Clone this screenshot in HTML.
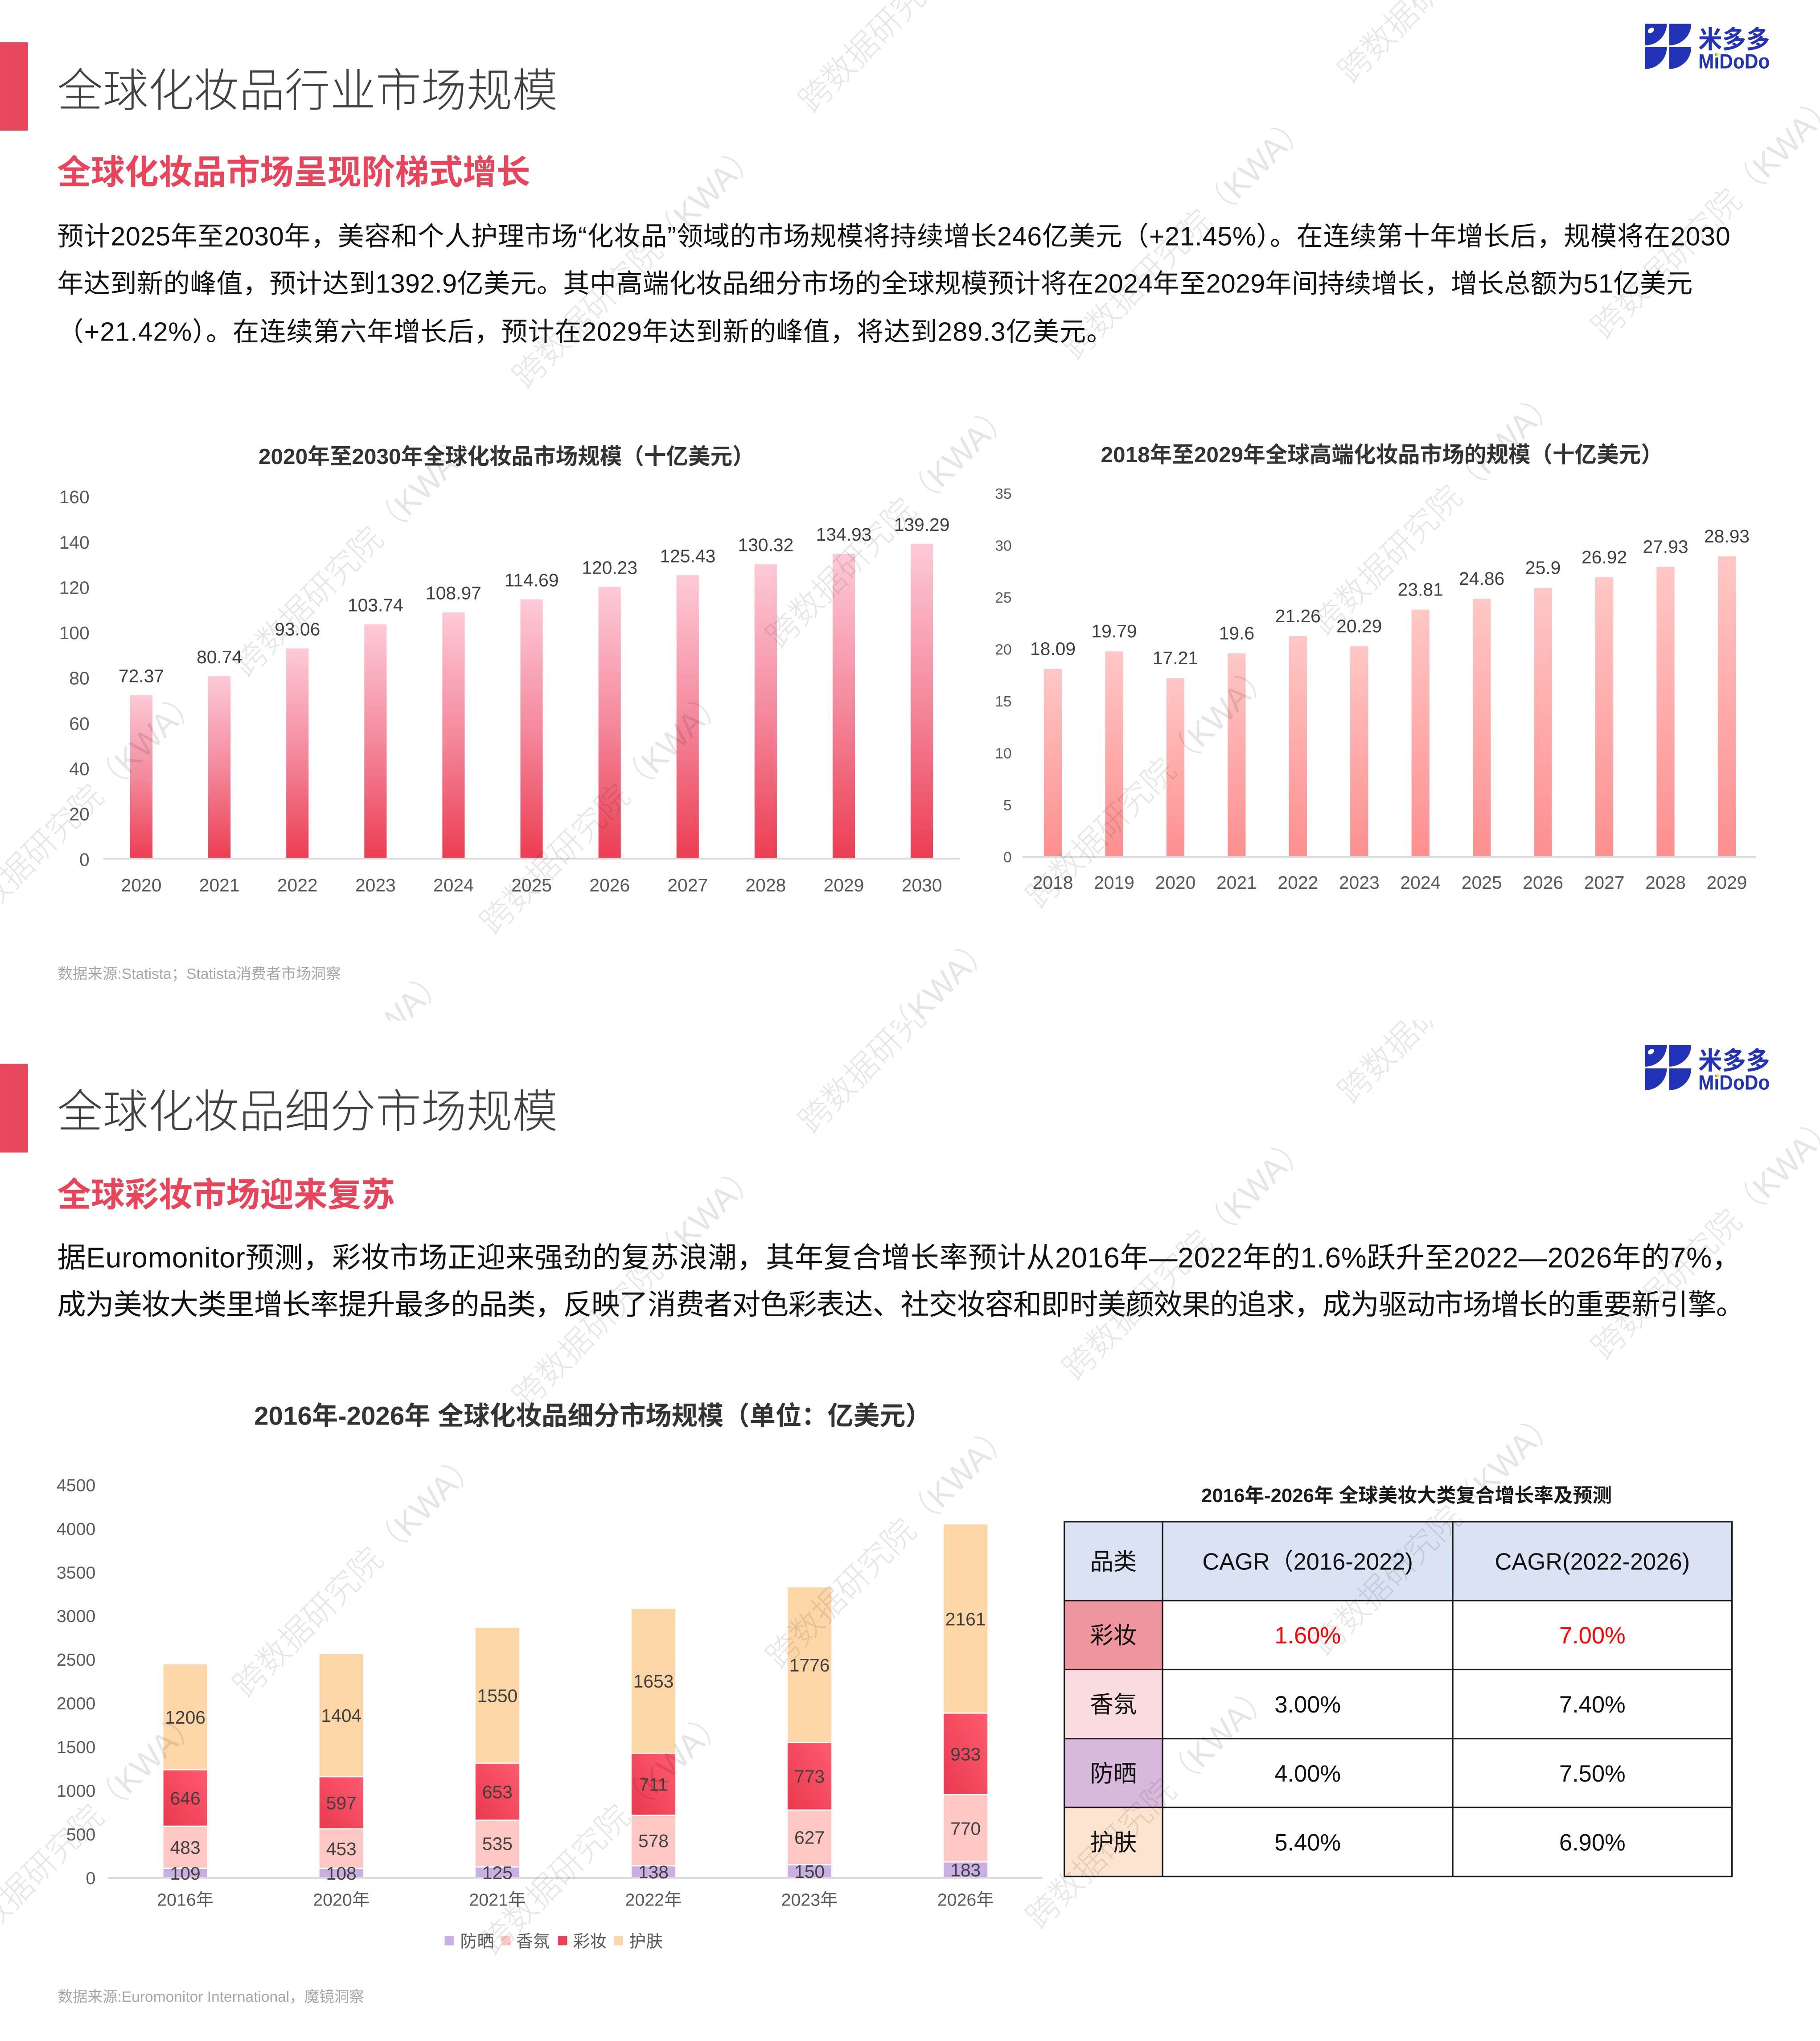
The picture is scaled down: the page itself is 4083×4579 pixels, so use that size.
<!DOCTYPE html>
<html><head><meta charset="utf-8"><style>
html,body{margin:0;padding:0;background:#fff;width:4083px;height:4579px;overflow:hidden}
svg{display:block;overflow:hidden}
.f{font-family:"Liberation Sans","Noto Sans CJK SC",sans-serif}
.wm{font-family:"Liberation Sans","Noto Sans CJK SC",sans-serif;font-size:25px;fill:#000;fill-opacity:0.1;font-weight:300}
.ax{font-size:14px;fill:#595959}
.vl{font-size:14px;fill:#404040}
</style></head><body>
<svg xmlns="http://www.w3.org/2000/svg" width="4083" height="4579" viewBox="0 0 1400 1570.1" class="f">
<defs>
<linearGradient id="g1" x1="0" y1="0" x2="0" y2="1"><stop offset="0" stop-color="#fdcad7"/><stop offset="0.5" stop-color="#f4899d"/><stop offset="1" stop-color="#ec3d52"/></linearGradient>
<linearGradient id="g2" x1="0" y1="0" x2="0" y2="1"><stop offset="0" stop-color="#fec7c5"/><stop offset="1" stop-color="#fd8f8f"/></linearGradient>
<linearGradient id="g3" x1="1" y1="0" x2="0" y2="1"><stop offset="0" stop-color="#ff5b6e"/><stop offset="1" stop-color="#e9394f"/></linearGradient>
<clipPath id="pg" clipPathUnits="userSpaceOnUse"><rect x="0" y="0" width="1400" height="785.05"/></clipPath>
</defs>
<rect x="0" y="0" width="1400" height="1570.1" fill="#fff"/>

<!-- ===== PAGE 1 header ===== -->
<rect x="0" y="32.5" width="21.4" height="68" fill="#e8475c"/>
<text x="44" y="82" font-size="35" fill="#404040" font-weight="300">全球化妆品行业市场规模</text>
<text x="44" y="141.5" font-size="26" fill="#e8455a" font-weight="bold">全球化妆品市场呈现阶梯式增长</text>
<text x="44" y="188.7" font-size="20.3" fill="#111" textLength="1287">预计2025年至2030年，美容和个人护理市场“化妆品”领域的市场规模将持续增长246亿美元（+21.45%）。在连续第十年增长后，规模将在2030</text>
<text x="44" y="225.1" font-size="20.3" fill="#111" textLength="1258">年达到新的峰值，预计达到1392.9亿美元。其中高端化妆品细分市场的全球规模预计将在2024年至2029年间持续增长，增长总额为51亿美元</text>
<text x="44" y="262.1" font-size="20.3" fill="#111" textLength="812">（+21.42%）。在连续第六年增长后，预计在2029年达到新的峰值，将达到289.3亿美元。</text>

<!-- logo page 1 -->
<g fill="#2233b8">
<path d="M1265.5 18.3 H1282.2 A16.7 16.6 0 0 1 1265.5 34.9 Z"/>
<path d="M1283.9 18.3 H1301 A17.1 16.6 0 0 1 1283.9 34.9 Z"/>
<path d="M1265.5 36.3 H1282.2 A16.7 16.8 0 0 1 1265.5 53.1 Z"/>
<path d="M1283.9 36.3 H1301 A17.1 16.8 0 0 1 1283.9 53.1 Z"/>
<text x="1306.4" y="37" font-size="19" font-weight="bold" textLength="55" lengthAdjust="spacingAndGlyphs">米多多</text>
<text x="1306.4" y="52.6" font-size="16" font-weight="bold" textLength="55" lengthAdjust="spacingAndGlyphs">MiDoDo</text>
</g>
<ellipse cx="1270" cy="23.4" rx="2.6" ry="1.8" fill="#fff" transform="rotate(-35 1270 23.4)"/>
<circle cx="1321.5" cy="42" r="1.3" fill="#f3e64a"/>

<!-- ===== Chart 1 ===== -->
<text x="389.6" y="357" font-size="17" font-weight="bold" fill="#333" text-anchor="middle">2020年至2030年全球化妆品市场规模（十亿美元）</text>
<g class="ax" text-anchor="end">
<text x="68.8" y="666">0</text><text x="68.8" y="631.15">20</text><text x="68.8" y="596.3">40</text><text x="68.8" y="561.45">60</text><text x="68.8" y="526.6">80</text><text x="68.8" y="491.75">100</text><text x="68.8" y="456.9">120</text><text x="68.8" y="422.05">140</text><text x="68.8" y="387.2">160</text>
</g>
<g fill="url(#g1)">
<rect x="100.1" y="534.75" width="17.2" height="125.85"/>
<rect x="160.14" y="520.19" width="17.2" height="140.41"/>
<rect x="220.18" y="498.77" width="17.2" height="161.83"/>
<rect x="280.22" y="480.2" width="17.2" height="180.4"/>
<rect x="340.26" y="471.1" width="17.2" height="189.5"/>
<rect x="400.3" y="461.15" width="17.2" height="199.45"/>
<rect x="460.34" y="451.52" width="17.2" height="209.08"/>
<rect x="520.38" y="442.48" width="17.2" height="218.12"/>
<rect x="580.42" y="433.97" width="17.2" height="226.63"/>
<rect x="640.46" y="425.96" width="17.2" height="234.64"/>
<rect x="700.5" y="418.37" width="17.2" height="242.23"/>
</g>
<line x1="79.4" y1="660.6" x2="738.5" y2="660.6" stroke="#d9d9d9" stroke-width="1.3"/>
<g class="vl" text-anchor="middle">
<text x="108.7" y="524.75">72.37</text><text x="168.74" y="510.19">80.74</text><text x="228.78" y="488.77">93.06</text><text x="288.82" y="470.2">103.74</text><text x="348.86" y="461.1">108.97</text><text x="408.9" y="451.15">114.69</text><text x="468.94" y="441.52">120.23</text><text x="528.98" y="432.48">125.43</text><text x="589.02" y="423.97">130.32</text><text x="649.06" y="415.96">134.93</text><text x="709.1" y="408.37">139.29</text>
</g>
<g class="ax" text-anchor="middle">
<text x="108.7" y="685.8">2020</text><text x="168.74" y="685.8">2021</text><text x="228.78" y="685.8">2022</text><text x="288.82" y="685.8">2023</text><text x="348.86" y="685.8">2024</text><text x="408.9" y="685.8">2025</text><text x="468.94" y="685.8">2026</text><text x="528.98" y="685.8">2027</text><text x="589.02" y="685.8">2028</text><text x="649.06" y="685.8">2029</text><text x="709.1" y="685.8">2030</text>
</g>
<text x="44.4" y="753" font-size="11.5" fill="#a6a6a6">数据来源:Statista；Statista消费者市场洞察</text>

<!-- ===== Chart 2 ===== -->
<text x="1063" y="355.5" font-size="17" font-weight="bold" fill="#333" text-anchor="middle">2018年至2029年全球高端化妆品市场的规模（十亿美元）</text>
<g font-size="11.5" fill="#595959" text-anchor="end">
<text x="778.2" y="663.3">0</text><text x="778.2" y="623.35">5</text><text x="778.2" y="583.4">10</text><text x="778.2" y="543.45">15</text><text x="778.2" y="503.5">20</text><text x="778.2" y="463.55">25</text><text x="778.2" y="423.6">30</text><text x="778.2" y="383.65">35</text>
</g>
<g fill="url(#g2)">
<rect x="803" y="514.66" width="13.8" height="144.54"/>
<rect x="850.13" y="501.08" width="13.8" height="158.12"/>
<rect x="897.26" y="521.69" width="13.8" height="137.51"/>
<rect x="944.39" y="502.6" width="13.8" height="156.6"/>
<rect x="991.52" y="489.33" width="13.8" height="169.87"/>
<rect x="1038.65" y="497.08" width="13.8" height="162.12"/>
<rect x="1085.78" y="468.96" width="13.8" height="190.24"/>
<rect x="1132.91" y="460.57" width="13.8" height="198.63"/>
<rect x="1180.04" y="452.26" width="13.8" height="206.94"/>
<rect x="1227.17" y="444.11" width="13.8" height="215.09"/>
<rect x="1274.3" y="436.04" width="13.8" height="223.16"/>
<rect x="1321.43" y="428.05" width="13.8" height="231.15"/>
</g>
<line x1="786.5" y1="659.2" x2="1351" y2="659.2" stroke="#d9d9d9" stroke-width="1.3"/>
<g class="vl" text-anchor="middle">
<text x="809.9" y="503.96">18.09</text><text x="857.03" y="490.38">19.79</text><text x="904.16" y="510.99">17.21</text><text x="951.29" y="491.9">19.6</text><text x="998.42" y="478.63">21.26</text><text x="1045.55" y="486.38">20.29</text><text x="1092.68" y="458.26">23.81</text><text x="1139.81" y="449.87">24.86</text><text x="1186.94" y="441.56">25.9</text><text x="1234.07" y="433.41">26.92</text><text x="1281.2" y="425.34">27.93</text><text x="1328.33" y="417.35">28.93</text>
</g>
<g class="ax" text-anchor="middle">
<text x="809.9" y="683.7">2018</text><text x="857.03" y="683.7">2019</text><text x="904.16" y="683.7">2020</text><text x="951.29" y="683.7">2021</text><text x="998.42" y="683.7">2022</text><text x="1045.55" y="683.7">2023</text><text x="1092.68" y="683.7">2024</text><text x="1139.81" y="683.7">2025</text><text x="1186.94" y="683.7">2026</text><text x="1234.07" y="683.7">2027</text><text x="1281.2" y="683.7">2028</text><text x="1328.33" y="683.7">2029</text>
</g>

<!-- ===== PAGE 2 header ===== -->
<rect x="0" y="818.4" width="21.4" height="68.2" fill="#e8475c"/>
<text x="44" y="867.3" font-size="35" fill="#404040" font-weight="300">全球化妆品细分市场规模</text>
<text x="44" y="928" font-size="26" fill="#e8455a" font-weight="bold">全球彩妆市场迎来复苏</text>
<text x="44" y="975" font-size="22" fill="#111" textLength="1295">据Euromonitor预测，彩妆市场正迎来强劲的复苏浪潮，其年复合增长率预计从2016年—2022年的1.6%跃升至2022—2026年的7%，</text>
<text x="44" y="1011.2" font-size="22" fill="#111" textLength="1298">成为美妆大类里增长率提升最多的品类，反映了消费者对色彩表达、社交妆容和即时美颜效果的追求，成为驱动市场增长的重要新引擎。</text>

<g transform="translate(0,785.6)">
<g fill="#2233b8">
<path d="M1265.5 18.3 H1282.2 A16.7 16.6 0 0 1 1265.5 34.9 Z"/>
<path d="M1283.9 18.3 H1301 A17.1 16.6 0 0 1 1283.9 34.9 Z"/>
<path d="M1265.5 36.3 H1282.2 A16.7 16.8 0 0 1 1265.5 53.1 Z"/>
<path d="M1283.9 36.3 H1301 A17.1 16.8 0 0 1 1283.9 53.1 Z"/>
<text x="1306.4" y="37" font-size="19" font-weight="bold" textLength="55" lengthAdjust="spacingAndGlyphs">米多多</text>
<text x="1306.4" y="52.6" font-size="16" font-weight="bold" textLength="55" lengthAdjust="spacingAndGlyphs">MiDoDo</text>
</g>
<ellipse cx="1270" cy="23.4" rx="2.6" ry="1.8" fill="#fff" transform="rotate(-35 1270 23.4)"/>
<circle cx="1321.5" cy="42" r="1.3" fill="#f3e64a"/>
</g>

<!-- ===== Stacked chart ===== -->
<text x="456" y="1096" font-size="20" font-weight="bold" fill="#333" text-anchor="middle">2016年-2026年 全球化妆品细分市场规模（单位：亿美元）</text>
<g font-size="13.5" fill="#595959" text-anchor="end">
<text x="73.5" y="1449.4">0</text><text x="73.5" y="1415.81">500</text><text x="73.5" y="1382.22">1000</text><text x="73.5" y="1348.63">1500</text><text x="73.5" y="1315.04">2000</text><text x="73.5" y="1281.45">2500</text><text x="73.5" y="1247.86">3000</text><text x="73.5" y="1214.27">3500</text><text x="73.5" y="1180.68">4000</text><text x="73.5" y="1147.09">4500</text>
</g>
<g>
<rect x="125.7" y="1437.28" width="33.6" height="7.32" fill="#c9afe2"/>
<rect x="125.7" y="1404.83" width="33.6" height="32.45" fill="#fdc7c3"/>
<rect x="125.7" y="1361.43" width="33.6" height="43.4" fill="url(#g3)"/>
<rect x="125.7" y="1280.41" width="33.6" height="81.02" fill="#fdd6a7"/>

<rect x="245.75" y="1437.34" width="33.6" height="7.26" fill="#c9afe2"/>
<rect x="245.75" y="1406.91" width="33.6" height="30.43" fill="#fdc7c3"/>
<rect x="245.75" y="1366.8" width="33.6" height="40.11" fill="url(#g3)"/>
<rect x="245.75" y="1272.48" width="33.6" height="94.32" fill="#fdd6a7"/>

<rect x="365.8" y="1436.2" width="33.6" height="8.4" fill="#c9afe2"/>
<rect x="365.8" y="1400.26" width="33.6" height="35.94" fill="#fdc7c3"/>
<rect x="365.8" y="1356.39" width="33.6" height="43.87" fill="url(#g3)"/>
<rect x="365.8" y="1252.26" width="33.6" height="104.13" fill="#fdd6a7"/>

<rect x="485.85" y="1435.33" width="33.6" height="9.27" fill="#c9afe2"/>
<rect x="485.85" y="1396.5" width="33.6" height="38.83" fill="#fdc7c3"/>
<rect x="485.85" y="1348.74" width="33.6" height="47.76" fill="url(#g3)"/>
<rect x="485.85" y="1237.69" width="33.6" height="111.05" fill="#fdd6a7"/>

<rect x="605.9" y="1434.52" width="33.6" height="10.08" fill="#c9afe2"/>
<rect x="605.9" y="1392.4" width="33.6" height="42.12" fill="#fdc7c3"/>
<rect x="605.9" y="1340.47" width="33.6" height="51.93" fill="url(#g3)"/>
<rect x="605.9" y="1221.16" width="33.6" height="119.31" fill="#fdd6a7"/>

<rect x="725.95" y="1432.31" width="33.6" height="12.29" fill="#c9afe2"/>
<rect x="725.95" y="1380.58" width="33.6" height="51.73" fill="#fdc7c3"/>
<rect x="725.95" y="1317.9" width="33.6" height="62.68" fill="url(#g3)"/>
<rect x="725.95" y="1172.73" width="33.6" height="145.17" fill="#fdd6a7"/>
</g>
<g stroke="#fff" stroke-width="0.9">
<line x1="125.7" x2="159.3" y1="1437.28" y2="1437.28"/><line x1="125.7" x2="159.3" y1="1404.83" y2="1404.83"/><line x1="125.7" x2="159.3" y1="1361.43" y2="1361.43"/>
<line x1="245.75" x2="279.35" y1="1437.34" y2="1437.34"/><line x1="245.75" x2="279.35" y1="1406.91" y2="1406.91"/><line x1="245.75" x2="279.35" y1="1366.8" y2="1366.8"/>
<line x1="365.8" x2="399.4" y1="1436.2" y2="1436.2"/><line x1="365.8" x2="399.4" y1="1400.26" y2="1400.26"/><line x1="365.8" x2="399.4" y1="1356.39" y2="1356.39"/>
<line x1="485.85" x2="519.45" y1="1435.33" y2="1435.33"/><line x1="485.85" x2="519.45" y1="1396.5" y2="1396.5"/><line x1="485.85" x2="519.45" y1="1348.74" y2="1348.74"/>
<line x1="605.9" x2="639.5" y1="1434.52" y2="1434.52"/><line x1="605.9" x2="639.5" y1="1392.4" y2="1392.4"/><line x1="605.9" x2="639.5" y1="1340.47" y2="1340.47"/>
<line x1="725.95" x2="759.55" y1="1432.31" y2="1432.31"/><line x1="725.95" x2="759.55" y1="1380.58" y2="1380.58"/><line x1="725.95" x2="759.55" y1="1317.9" y2="1317.9"/>
</g>
<line x1="82.9" y1="1444.6" x2="802" y2="1444.6" stroke="#d9d9d9" stroke-width="1.3"/>
<g class="vl" text-anchor="middle">
<text x="142.5" y="1445.94">109</text><text x="142.5" y="1426.06">483</text><text x="142.5" y="1388.13">646</text><text x="142.5" y="1325.92">1206</text>
<text x="262.55" y="1445.97">108</text><text x="262.55" y="1427.13">453</text><text x="262.55" y="1391.86">597</text><text x="262.55" y="1324.64">1404</text>
<text x="382.6" y="1445.4">125</text><text x="382.6" y="1423.23">535</text><text x="382.6" y="1383.33">653</text><text x="382.6" y="1309.33">1550</text>
<text x="502.65" y="1444.97">138</text><text x="502.65" y="1420.92">578</text><text x="502.65" y="1377.62">711</text><text x="502.65" y="1298.22">1653</text>
<text x="622.7" y="1444.56">150</text><text x="622.7" y="1418.46">627</text><text x="622.7" y="1371.44">773</text><text x="622.7" y="1285.82">1776</text>
<text x="742.75" y="1443.46">183</text><text x="742.75" y="1411.45">770</text><text x="742.75" y="1354.24">933</text><text x="742.75" y="1250.32">2161</text>
</g>
<g font-size="13.5" fill="#595959" text-anchor="middle">
<text x="142.5" y="1466">2016年</text><text x="262.55" y="1466">2020年</text><text x="382.6" y="1466">2021年</text><text x="502.65" y="1466">2022年</text><text x="622.7" y="1466">2023年</text><text x="742.75" y="1466">2026年</text>
</g>
<rect x="342" y="1489.5" width="7" height="7" fill="#c9afe2"/>
<rect x="385.7" y="1489.5" width="7" height="7" fill="#fdc7c3"/>
<rect x="429.3" y="1489.5" width="7" height="7" fill="#ee4057"/>
<rect x="472.3" y="1489.5" width="7" height="7" fill="#fdd6a7"/>
<g font-size="13" fill="#595959">
<text x="354" y="1498">防晒</text><text x="397" y="1498">香氛</text><text x="440.8" y="1498">彩妆</text><text x="483.9" y="1498">护肤</text>
</g>
<text x="44.4" y="1540" font-size="11.5" fill="#a6a6a6">数据来源:Euromonitor International，魔镜洞察</text>

<!-- ===== Table ===== -->
<text x="1082" y="1155.5" font-size="15" font-weight="bold" fill="#1a1a1a" text-anchor="middle">2016年-2026年 全球美妆大类复合增长率及预测</text>
<rect x="818.7" y="1170.6" width="513.6" height="60.7" fill="#dae3f3"/>
<rect x="818.7" y="1231.3" width="75.6" height="53" fill="#ee959e"/>
<rect x="818.7" y="1284.3" width="75.6" height="53.2" fill="#fadbe0"/>
<rect x="818.7" y="1337.5" width="75.6" height="52.9" fill="#d9b8dd"/>
<rect x="818.7" y="1390.4" width="75.6" height="53.1" fill="#fce4d0"/>
<g stroke="#1a1a1a" stroke-width="1.1" fill="none">
<rect x="818.7" y="1170.6" width="513.6" height="272.9"/>
<line x1="818.7" x2="1332.3" y1="1231.3" y2="1231.3"/>
<line x1="818.7" x2="1332.3" y1="1284.3" y2="1284.3"/>
<line x1="818.7" x2="1332.3" y1="1337.5" y2="1337.5"/>
<line x1="818.7" x2="1332.3" y1="1390.4" y2="1390.4"/>
<line x1="894.3" x2="894.3" y1="1170.6" y2="1443.5"/>
<line x1="1117.5" x2="1117.5" y1="1170.6" y2="1443.5"/>
</g>
<g font-size="18" fill="#111" text-anchor="middle">
<text x="856.5" y="1207.5">品类</text><text x="1005.9" y="1207.5">CAGR（2016-2022)</text><text x="1224.9" y="1207.5">CAGR(2022-2026)</text>
<text x="856.5" y="1264.3">彩妆</text><text x="1005.9" y="1264.3" fill="#ff0000">1.60%</text><text x="1224.9" y="1264.3" fill="#ff0000">7.00%</text>
<text x="856.5" y="1317.4">香氛</text><text x="1005.9" y="1317.4">3.00%</text><text x="1224.9" y="1317.4">7.40%</text>
<text x="856.5" y="1370.5">防晒</text><text x="1005.9" y="1370.5">4.00%</text><text x="1224.9" y="1370.5">7.50%</text>
<text x="856.5" y="1423.5">护肤</text><text x="1005.9" y="1423.5">5.40%</text><text x="1224.9" y="1423.5">6.90%</text>
</g>

<!-- ===== Watermarks ===== -->
<g clip-path="url(#pg)" class="wm">
<text x="625" y="88" transform="rotate(-45 625 88)">跨数据研究院（KWA）</text>
<text x="1040" y="65" transform="rotate(-45 1040 65)">跨数据研究院（KWA）</text>
<text x="405" y="300" transform="rotate(-45 405 300)">跨数据研究院（KWA）</text>
<text x="828" y="278" transform="rotate(-45 828 278)">跨数据研究院（KWA）</text>
<text x="1235" y="262" transform="rotate(-45 1235 262)">跨数据研究院（KWA）</text>
<text x="190" y="522" transform="rotate(-45 190 522)">跨数据研究院（KWA）</text>
<text x="600" y="500" transform="rotate(-45 600 500)">跨数据研究院（KWA）</text>
<text x="1020" y="490" transform="rotate(-45 1020 490)">跨数据研究院（KWA）</text>
<text x="-25" y="720" transform="rotate(-45 -25 720)">跨数据研究院（KWA）</text>
<text x="380" y="720" transform="rotate(-45 380 720)">跨数据研究院（KWA）</text>
<text x="800" y="700" transform="rotate(-45 800 700)">跨数据研究院（KWA）</text>
<text x="165" y="935" transform="rotate(-45 165 935)">跨数据研究院（KWA）</text>
<text x="585" y="910" transform="rotate(-45 585 910)">跨数据研究院（KWA）</text>
</g>
<g transform="translate(0,785.05)">
<g clip-path="url(#pg)" class="wm">
<text x="625" y="88" transform="rotate(-45 625 88)">跨数据研究院（KWA）</text>
<text x="1040" y="65" transform="rotate(-45 1040 65)">跨数据研究院（KWA）</text>
<text x="405" y="300" transform="rotate(-45 405 300)">跨数据研究院（KWA）</text>
<text x="828" y="278" transform="rotate(-45 828 278)">跨数据研究院（KWA）</text>
<text x="1235" y="262" transform="rotate(-45 1235 262)">跨数据研究院（KWA）</text>
<text x="190" y="522" transform="rotate(-45 190 522)">跨数据研究院（KWA）</text>
<text x="600" y="500" transform="rotate(-45 600 500)">跨数据研究院（KWA）</text>
<text x="1020" y="490" transform="rotate(-45 1020 490)">跨数据研究院（KWA）</text>
<text x="-25" y="720" transform="rotate(-45 -25 720)">跨数据研究院（KWA）</text>
<text x="380" y="720" transform="rotate(-45 380 720)">跨数据研究院（KWA）</text>
<text x="800" y="700" transform="rotate(-45 800 700)">跨数据研究院（KWA）</text>
</g>
</g>
</svg>
</body></html>
